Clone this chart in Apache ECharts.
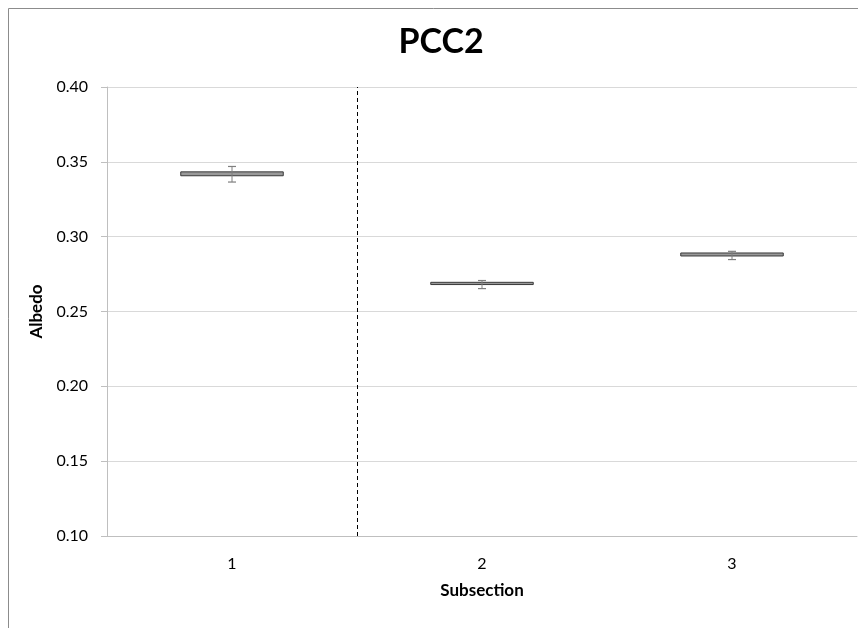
<!DOCTYPE html>
<html><head><meta charset="utf-8">
<script src="https://cdn.jsdelivr.net/npm/echarts@6/dist/echarts.min.js"></script>
<style>html,body{margin:0;padding:0;background:#fff}#c{width:858px;height:628px}</style>
</head><body><div id="c"></div>
<script>
const categories = ['1', '2', '3'];
const errLow  = [0.3365, 0.2653, 0.2847];
const boxLow  = [0.3407, 0.2680, 0.2871];
const boxHigh = [0.3433, 0.2695, 0.2891];
const errHigh = [0.3469, 0.2707, 0.2902];
const dividerAt = [1]; // boundary after first category
const yTicks = { min: 0.10, max: 0.40, interval: 0.05 };

const font = 'Lato, "Open Sans", sans-serif';
const data = categories.map((c, i) => [i, errLow[i], boxLow[i], boxHigh[i], errHigh[i]]);

const chart = echarts.init(document.getElementById('c'));
chart.setOption({
  animation: false,
  title: { text: 'PCC2', left: 436, textAlign: 'center', top: 20,
    textStyle: { fontFamily: font, fontWeight: 'bold', fontSize: 34, color: '#000' } },
  graphic: [{ type: 'rect', shape: { x: 8.5, y: 8.5, width: 900, height: 700 },
    style: { fill: 'none', stroke: '#8c8c8c', lineWidth: 1 }, silent: true }],
  grid: { left: 107, right: 1, top: 87, bottom: 92 },
  xAxis: [{
    type: 'category', data: categories, boundaryGap: true,
    name: 'Subsection', nameLocation: 'middle', nameGap: 46,
    nameTextStyle: { fontFamily: font, fontWeight: 'bold', fontSize: 17, color: '#000' },
    axisLine: { lineStyle: { color: '#bfbfbf' } },
    axisTick: { lineStyle: { color: '#bfbfbf' }, length: 6 },
    axisLabel: { fontFamily: font, fontSize: 16, color: '#000', margin: 20 }
  }, {
    type: 'value', min: 0, max: 3, show: false
  }],
  yAxis: {
    type: 'value', min: yTicks.min, max: yTicks.max, interval: yTicks.interval,
    name: 'Albedo', nameLocation: 'middle', nameGap: 59,
    nameTextStyle: { fontFamily: font, fontWeight: 'bold', fontSize: 17, color: '#000' },
    axisLine: { show: true, lineStyle: { color: '#bfbfbf' } },
    axisTick: { show: true, lineStyle: { color: '#bfbfbf' }, length: 6 },
    axisLabel: { fontFamily: font, fontSize: 16, color: '#000', margin: 19,
      formatter: v => v.toFixed(2) },
    splitLine: { lineStyle: { color: '#d9d9d9' } }
  },
  series: [{
    type: 'custom',
    xAxisIndex: 0,
    data: data,
    encode: { x: 0, y: [1, 2, 3, 4] },
    renderItem: function (params, api) {
      const x = api.value(0);
      const pLow = api.coord([x, api.value(1)]);
      const pB1 = api.coord([x, api.value(2)]);
      const pB2 = api.coord([x, api.value(3)]);
      const pHigh = api.coord([x, api.value(4)]);
      const bw = api.size([1, 0])[0] * 0.41;
      const cap = 4;
      const cx = pLow[0];
      return {
        type: 'group',
        children: [
          { type: 'rect', shape: { x: cx - bw / 2, y: pB2[1], width: bw, height: Math.max(pB1[1] - pB2[1], 2) },
            style: { fill: '#999999', stroke: '#3a3a3a', lineWidth: 1 } },
          { type: 'line', shape: { x1: cx, y1: pHigh[1], x2: cx, y2: pLow[1] },
            style: { stroke: '#7f7f7f', lineWidth: 1 } },
          { type: 'line', shape: { x1: cx - cap, y1: pHigh[1], x2: cx + cap, y2: pHigh[1] },
            style: { stroke: '#7f7f7f', lineWidth: 1.2 } },
          { type: 'line', shape: { x1: cx - cap, y1: pLow[1], x2: cx + cap, y2: pLow[1] },
            style: { stroke: '#7f7f7f', lineWidth: 1.2 } }
        ]
      };
    }
  }, {
    type: 'line', xAxisIndex: 1, data: [], symbol: 'none',
    markLine: { silent: true, symbol: 'none', label: { show: false },
      lineStyle: { type: [4, 3], color: '#000', width: 1 },
      data: dividerAt.map(v => ({ xAxis: v })) }
  }]
});
</script></body></html>
